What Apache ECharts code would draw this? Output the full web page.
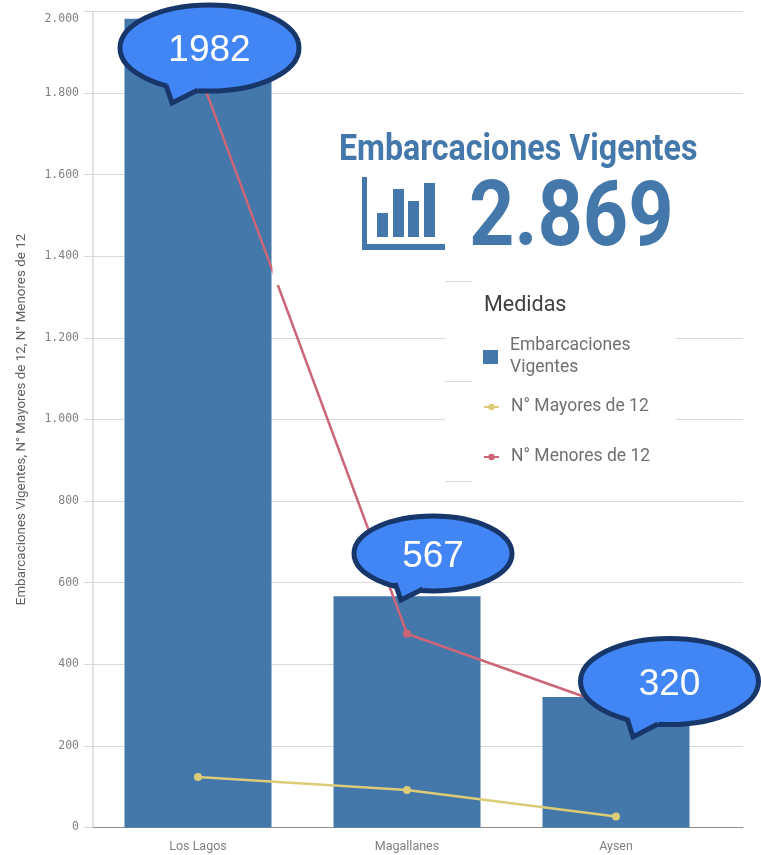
<!DOCTYPE html>
<html><head><meta charset="utf-8">
<style>html,body{margin:0;padding:0;background:#fff}#c{width:761px;height:855px}</style>
<script src="https://cdn.jsdelivr.net/npm/echarts@6/dist/echarts.min.js"></script>
</head><body><div id="c"></div>
<script>
const categories = ['Los Lagos', 'Magallanes', 'Aysen'];
const embarcaciones = [1982, 567, 320];
const mayores = [124, 92, 27];
const menores = [1858, 475, 293];
const yTicks = [0, 200, 400, 600, 800, 1000, 1200, 1400, 1600, 1800, 2000];
const kpiTitle = 'Embarcaciones Vigentes';
const kpiValue = '2.869';
const legendTitle = 'Medidas';
const yAxisName = 'Embarcaciones Vigentes, N° Mayores de 12, N° Menores de 12';

const BLUE = '#4477AA', RED = '#CC6677', YEL = '#DDCC77', GRID = '#d9d9d9';
const FILL = '#4285F4', EDGE = '#17376B';
const fmt = v => v >= 1000 ? Math.floor(v / 1000) + '.' + String(v % 1000).padStart(3, '0') : String(v);

function callout(cx, cy, rx, ry, tail, label, fs) {
  const [a, t, b] = tail;
  return [
    { type: 'ellipse', z: 300, shape: { cx, cy, rx, ry }, style: { fill: FILL, stroke: EDGE, lineWidth: 5 } },
    { type: 'polygon', z: 301, shape: { points: [a, t, b, [cx, cy]] }, style: { fill: FILL } },
    { type: 'polyline', z: 302, shape: { points: [a, t, b] }, style: { fill: 'none', stroke: EDGE, lineWidth: 5, lineJoin: 'miter' } },
    { type: 'text', z: 303, x: cx, y: cy + 3, style: { text: label, fill: '#fff', font: fs + 'px "Liberation Sans"', textAlign: 'center', textVerticalAlign: 'middle' } }
  ];
}
const rect = (x, y, w, h, fill, z) => ({ type: 'rect', z, shape: { x, y, width: w, height: h }, style: { fill } });
const stub = (x1, x2, y) => ({ type: 'line', z: 120, shape: { x1, y1: y, x2, y2: y }, style: { stroke: GRID, lineWidth: 1 } });

const graphics = [
  rect(272.5, 100, 489, 185, '#fff', 100),
  rect(445, 285, 231, 205, '#fff', 100),
  stub(445, 472, 281.5), stub(445, 472, 381.5), stub(445, 472, 481.5),
  { type: 'text', z: 150, x: 339, y: 150.5, scaleX: 0.87, style: { text: kpiTitle, fill: BLUE, font: 'bold 37px Roboto', textAlign: 'left', textVerticalAlign: 'middle' } },
  { type: 'text', z: 150, x: 469, y: 222, scaleX: 0.88, style: { text: kpiValue, fill: BLUE, font: 'bold 90px Roboto', textAlign: 'left', textVerticalAlign: 'middle' } },
  rect(362, 177, 5, 73, BLUE, 150), rect(362, 244, 83, 6, BLUE, 150),
  rect(377, 213, 11, 24, BLUE, 150), rect(393, 189, 11, 48, BLUE, 150),
  rect(408, 201, 11, 36, BLUE, 150), rect(424, 183, 11, 54, BLUE, 150),
  { type: 'text', z: 150, x: 484, y: 306, style: { text: legendTitle, fill: '#404040', font: '21.5px Roboto', textAlign: 'left', textVerticalAlign: 'middle' } },
  ...callout(209.5, 48, 89.5, 43, [[166, 85], [172, 103], [198, 90]], String(embarcaciones[0]), 37),
  ...callout(433, 553.5, 79, 37.5, [[395, 583], [401, 600], [423, 589]], String(embarcaciones[1]), 37),
  ...callout(669.5, 681.5, 89, 43, [[627, 718], [633, 737], [658, 724]], String(embarcaciones[2]), 37)
];
const legendText = { color: '#707070', fontFamily: 'Roboto', fontSize: 17.5, lineHeight: 22, padding: [0, 0, 0, 7] };

echarts.init(document.getElementById('c')).setOption({
  animation: false,
  backgroundColor: '#fff',
  grid: [
    { left: 93, width: 650, top: 11.5, height: 816 },
    { left: 93.5, width: 627, top: 11.5, height: 816 }
  ],
  xAxis: [
    { gridIndex: 0, type: 'value', min: 0, max: 1, splitLine: { show: false }, axisTick: { show: false }, axisLabel: { show: false }, axisLine: { show: true, onZero: false, lineStyle: { color: '#8c8c8c', width: 1 } } },
    { gridIndex: 1, type: 'category', data: categories, axisLine: { show: false }, axisTick: { show: false }, axisLabel: { color: '#808080', fontFamily: 'Roboto', fontSize: 12.5, margin: 13 } }
  ],
  yAxis: [
    { gridIndex: 0, type: 'value', min: 0, max: 2000, interval: 200,
      name: yAxisName, nameLocation: 'middle', nameGap: 65, nameTextStyle: { color: '#606060', fontFamily: 'Roboto', fontSize: 13.4 },
      axisLine: { show: true, lineStyle: { color: GRID, width: 1.5 } },
      axisTick: { show: true, length: 9, lineStyle: { color: GRID } },
      axisLabel: { color: '#808080', fontFamily: '"DejaVu Sans Mono"', fontSize: 11.5, margin: 14, padding: [2, 0, 0, 0], verticalAlignMaxLabel: 'top', formatter: v => yTicks.includes(v) ? fmt(v) : '' },
      splitLine: { show: true, lineStyle: { color: GRID, width: 1 } } },
    { gridIndex: 1, type: 'value', min: 0, max: 2000, show: false, splitLine: { show: false } }
  ],
  legend: [
    { left: 478, top: 330, orient: 'vertical', z: 200, itemWidth: 15, itemHeight: 14, itemGap: 0, textStyle: legendText, data: [{ name: 'Embarcaciones Vigentes', icon: 'rect' }], formatter: n => n.replace(' ', '\n') },
    { left: 478, top: 391, orient: 'vertical', z: 200, itemWidth: 15, itemHeight: 8, itemGap: 28, textStyle: legendText, data: ['N° Mayores de 12', 'N° Menores de 12'] }
  ],
  series: [
    { name: 'Embarcaciones Vigentes', type: 'bar', xAxisIndex: 1, yAxisIndex: 1, data: embarcaciones, barWidth: 147, itemStyle: { color: BLUE } },
    { name: 'N° Mayores de 12', type: 'line', xAxisIndex: 1, yAxisIndex: 1, data: mayores, color: YEL, symbol: 'circle', symbolSize: 8, lineStyle: { width: 2.5, color: YEL }, itemStyle: { color: YEL } },
    { name: 'N° Menores de 12', type: 'line', xAxisIndex: 1, yAxisIndex: 1, data: menores, color: RED, symbol: 'circle', symbolSize: 8, lineStyle: { width: 2.5, color: RED }, itemStyle: { color: RED } }
  ],
  graphic: { elements: graphics }
});
</script></body></html>
